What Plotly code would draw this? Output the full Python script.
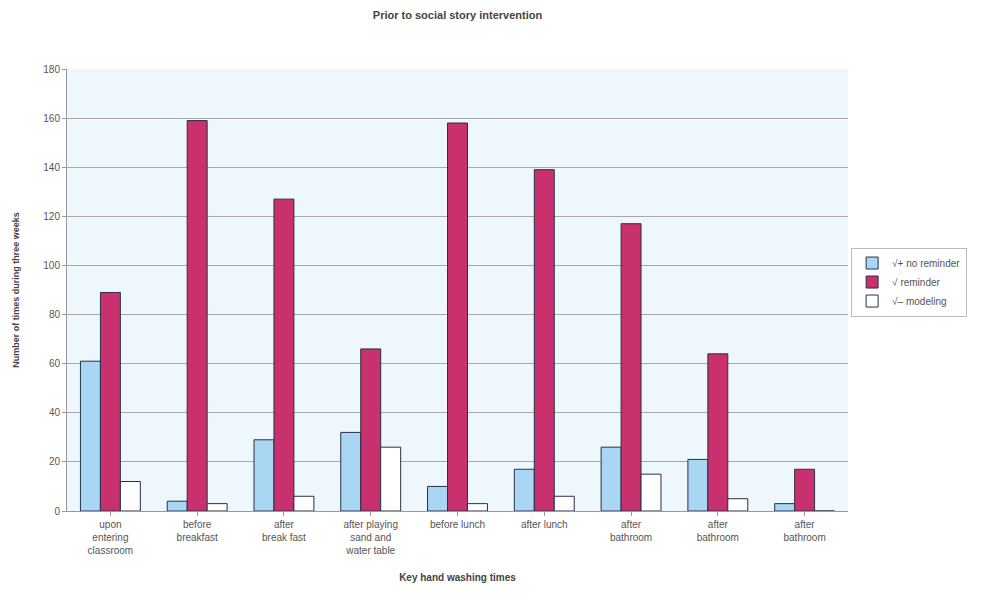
import plotly.graph_objects as go

categories = ["upon<br>entering<br>classroom", "before<br>breakfast", "after<br>break fast",
              "after playing<br>sand and<br>water table", "before lunch", "after lunch",
              "after<br>bathroom", "after<br>bathroom", "after<br>bathroom"]
no_reminder = [61, 4, 29, 32, 10, 17, 26, 21, 3]
reminder = [89, 159, 127, 66, 158, 139, 117, 64, 17]
modeling = [12, 3, 6, 26, 3, 6, 15, 5, 0]
series_names = ["√+ no reminder", "√ reminder", "√– modeling"]
y_ticks = [0, 20, 40, 60, 80, 100, 120, 140, 160, 180]

x = list(range(len(categories)))
colors = ["#a9d6f3", "#c9316e", "#ffffff"]
fig = go.Figure()
for name, vals, c in zip(series_names, [no_reminder, reminder, modeling], colors):
    fig.add_trace(go.Bar(x=x, y=vals, name=name, marker=dict(color=c, line=dict(color="#2a2f4a", width=1))))

fig.update_layout(
    width=992, height=595,
    margin=dict(l=67, r=144, t=69, b=84),
    paper_bgcolor="#ffffff", plot_bgcolor="#eef7fb",
    barmode="group", bargap=0.31, bargroupgap=0,
    font=dict(family="Liberation Sans, Arial", color="#555", size=10),
    title=dict(text="<b>Prior to social story intervention</b>", x=0.5, xref="paper", y=0.975, yanchor="middle",
               font=dict(size=11, color="#444")),
    legend=dict(x=1.004, y=0.518, xanchor="left", yanchor="middle", bgcolor="#ffffff",
                bordercolor="#bbbbbb", borderwidth=1, font=dict(size=10, color="#555"),
                itemwidth=30, tracegroupgap=0),
    showlegend=True,
)
fig.update_xaxes(tickvals=x, ticktext=categories, range=[-0.5, len(categories) - 0.5],
                 showgrid=False, showline=True, linecolor="#999", ticks="outside", ticklen=4,
                 tickcolor="#999", tickangle=0, tickfont=dict(size=10, color="#555"),
                 title=dict(text="<b>Key hand washing times</b>", font=dict(size=10, color="#444"), standoff=18))
fig.update_yaxes(range=[0, 180], tickvals=y_ticks, showgrid=True, gridcolor="#a8a8a8", gridwidth=1,
                 showline=True, linecolor="#999", ticks="outside", ticklen=4, tickcolor="#999",
                 tickfont=dict(size=10, color="#555"), zeroline=False,
                 title=dict(text="<b>Number of times during three weeks</b>", font=dict(size=9, color="#444"), standoff=22))
fig.write_html("out.html")
